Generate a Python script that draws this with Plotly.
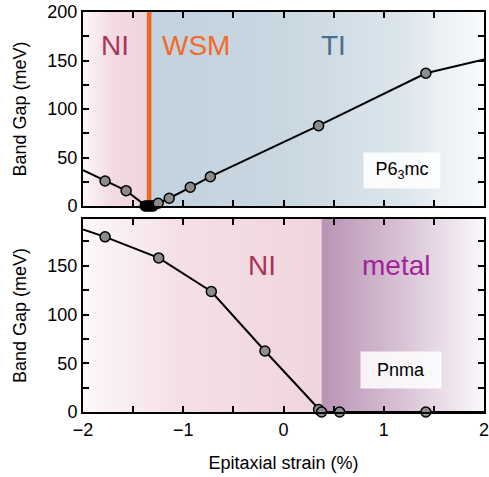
import plotly.graph_objects as go

# ---- data ----
top_line_x = [-2.0, -1.78, -1.57, -1.37, -1.35, -1.33, -1.31, -1.25, -1.14, -0.93, -0.73, 0.35, 1.42, 2.0]
top_line_y = [37, 25.8, 15.8, 0, 0, 0, 0, 2.8, 8, 19.3, 30.2, 82.8, 136.8, 151]
top_gray_x = [-1.78, -1.57, -1.25, -1.14, -0.93, -0.73, 0.35, 1.42]
top_gray_y = [25.8, 15.8, 2.8, 8, 19.3, 30.2, 82.8, 136.8]
top_black_x = [-1.38, -1.36, -1.34, -1.32, -1.30]
top_black_y = [0, 0, 0, 0, 0]
bot_line_x = [-2.0, -1.78, -1.245, -0.72, -0.185, 0.35, 0.38, 0.56, 1.42, 2.0]
bot_line_y = [187.3, 179.7, 158.1, 123.6, 62.6, 2.5, 0, 0, 0, 0]
bot_pts_x = [-1.78, -1.245, -0.72, -0.185, 0.35, 0.38, 0.56, 1.42]
bot_pts_y = [179.7, 158.1, 123.6, 62.6, 2.5, 0, 0, 0]
wsm_boundary = -1.34
metal_boundary = 0.38
x_range = [-2, 2]
top_y_range = [0, 200]
bot_y_range = [0, 198]

FONT = "Liberation Sans, Arial, sans-serif"

fig = go.Figure()

def grad_rect(x0, x1, y0, y1, cs, xa, ya):
    fig.add_trace(go.Scatter(
        x=[x0, x1, x1, x0, x0], y=[y0, y0, y1, y1, y0],
        fill="toself", mode="lines", line=dict(width=0),
        fillgradient=dict(type="horizontal", colorscale=cs),
        hoverinfo="skip", showlegend=False, xaxis=xa, yaxis=ya))

# backgrounds
grad_rect(-2, wsm_boundary, 0, 200,
          [[0, "#fdf7f9"], [0.45, "#f2dbe1"], [1, "#efd3da"]], "x", "y")
grad_rect(wsm_boundary, 2, 0, 200,
          [[0, "#c2d2de"], [0.4, "#c9d7e1"], [0.75, "#dce5ec"], [1, "#f9fbfc"]], "x", "y")
grad_rect(-2, metal_boundary, 0, 198,
          [[0, "#fdf8f9"], [0.4, "#f4e0e5"], [1, "#f0d5dc"]], "x2", "y2")
grad_rect(metal_boundary, 2, 0, 198,
          [[0, "#b893b3"], [0.5, "#d8c3d6"], [1, "#fbf8fb"]], "x2", "y2")

# orange WSM line
fig.add_trace(go.Scatter(x=[wsm_boundary, wsm_boundary], y=[0, 200], mode="lines",
                         line=dict(color="#f26522", width=4.5), hoverinfo="skip",
                         showlegend=False, xaxis="x", yaxis="y"))

mk = dict(size=10, color="#8c8c8c", line=dict(color="black", width=1.5))

# top data
fig.add_trace(go.Scatter(x=top_line_x, y=top_line_y, mode="lines",
                         line=dict(color="black", width=2), showlegend=False,
                         xaxis="x", yaxis="y", cliponaxis=True))
fig.add_trace(go.Scatter(x=top_black_x, y=top_black_y, mode="markers",
                         marker=dict(size=10, color="black", line=dict(color="black", width=1.5)),
                         showlegend=False, xaxis="x", yaxis="y", cliponaxis=False))
fig.add_trace(go.Scatter(x=top_gray_x, y=top_gray_y, mode="markers", marker=mk,
                         showlegend=False, xaxis="x", yaxis="y", cliponaxis=False))

# bottom data
fig.add_trace(go.Scatter(x=bot_line_x, y=bot_line_y, mode="lines",
                         line=dict(color="black", width=2), showlegend=False,
                         xaxis="x2", yaxis="y2"))
fig.add_trace(go.Scatter(x=bot_pts_x, y=bot_pts_y, mode="markers", marker=mk,
                         showlegend=False, xaxis="x2", yaxis="y2", cliponaxis=False))

axcommon = dict(showline=True, linecolor="black", linewidth=2, mirror="allticks",
                ticks="inside", ticklen=6, tickwidth=1.5, tickcolor="black",
                showgrid=False, zeroline=False, automargin=False,
                ticklabeloverflow="allow",
                tickfont=dict(family=FONT, size=18, color="black"))
minor_common = dict(ticks="inside", ticklen=6, tickwidth=1.5, tickcolor="black", tick0=0)

fig.update_layout(
    width=489, height=477,
    margin=dict(l=83, r=5, t=12, b=65),
    paper_bgcolor="white", plot_bgcolor="white",
    font=dict(family=FONT, size=18, color="black"),
    xaxis=dict(domain=[0, 1], range=x_range, anchor="y", dtick=1, tick0=0,
               showticklabels=False, minor=dict(dtick=0.5, **minor_common), **axcommon),
    yaxis=dict(domain=[0.515, 1], range=top_y_range, anchor="x", dtick=50, tick0=0,
               minor=dict(dtick=25, **minor_common),
               title=dict(text="Band Gap (meV)", font=dict(family=FONT, size=18), standoff=16),
               **axcommon),
    xaxis2=dict(domain=[0, 1], range=x_range, anchor="y2", dtick=1, tick0=0,
                minor=dict(dtick=0.5, **minor_common),
                title=dict(text="Epitaxial strain (%)", font=dict(family=FONT, size=18), standoff=18),
                **axcommon),
    yaxis2=dict(domain=[0, 0.4825], range=bot_y_range, anchor="x2", dtick=50, tick0=0,
                minor=dict(dtick=25, **minor_common),
                title=dict(text="Band Gap (meV)", font=dict(family=FONT, size=18), standoff=16),
                **axcommon),
)

def lab(text, x, y, color, xref="x", yref="y", size=28):
    fig.add_annotation(text=text, x=x, y=y, xref=xref, yref=yref, showarrow=False,
                       font=dict(family=FONT, size=size, color=color),
                       xanchor="center", yanchor="middle")

lab("NI", -1.68, 165, "#a8365c")
lab("WSM", -0.87, 165, "#f26a2a")
lab("TI", 0.50, 165, "#4d6d8c")
lab("NI", -0.215, 150, "#a8365c", "x2", "y2")
lab("metal", 1.127, 150, "#a3229a", "x2", "y2")

fig.add_annotation(text="P6<sub>3</sub>mc", x=1.18, y=36.6, xref="x", yref="y", showarrow=False,
                   font=dict(family=FONT, size=18, color="black"),
                   bgcolor="rgba(255,255,255,0.85)", width=72, height=31, borderpad=2)
fig.add_annotation(text="Pnma", x=1.17, y=43, xref="x2", yref="y2", showarrow=False,
                   font=dict(family=FONT, size=18, color="black"),
                   bgcolor="rgba(255,255,255,0.85)", width=76, height=32, borderpad=2)

fig.write_html("out.html", config={"displayModeBar": False},
               post_script="document.body.style.margin='0';document.body.style.padding='0';")
